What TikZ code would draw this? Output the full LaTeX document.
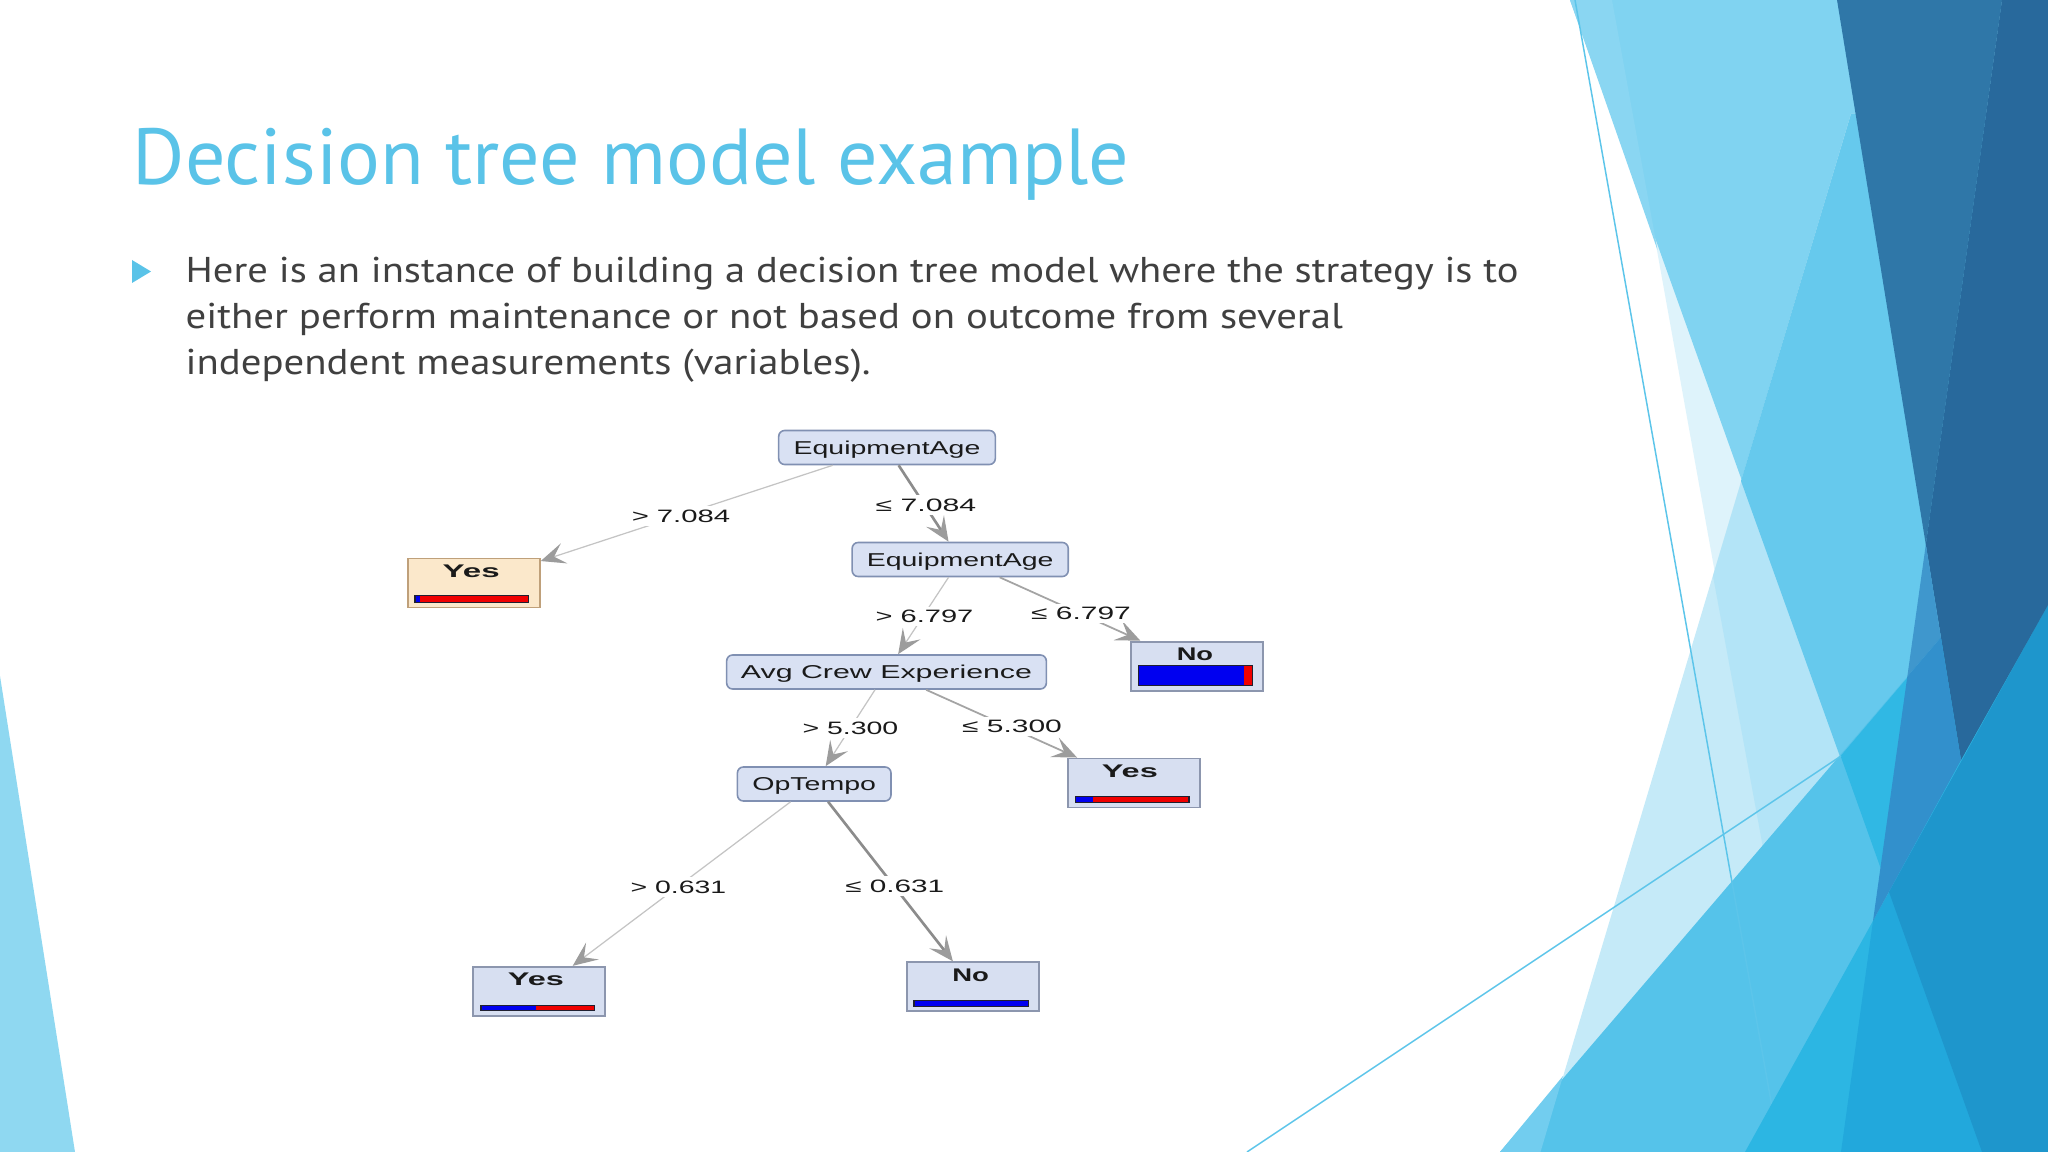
\documentclass[tikz,border=0pt]{standalone}
\usepackage{fontspec}
\usepackage{graphicx}
\usetikzlibrary{arrows.meta,calc}
\setmainfont{PT Sans}
\newfontfamily\treefont{Liberation Sans}
\newcommand\fitw[2]{\resizebox{#1}{\height}{#2}}
\definecolor{titleblue}{HTML}{5AC3E8}
\definecolor{bodygray}{HTML}{404040}
\definecolor{nodefill}{HTML}{D9E1F3}
\definecolor{nodeborder}{HTML}{8090B2}
\definecolor{leaffill}{HTML}{D7DFF1}
\definecolor{leafborder}{HTML}{8C96AE}
\definecolor{tanfill}{HTML}{FBE8CB}
\definecolor{tanborder}{HTML}{BFA07A}
\definecolor{treetext}{HTML}{1A1A1A}
\definecolor{barblue}{HTML}{0000F0}
\definecolor{barred}{HTML}{F00000}
\definecolor{barline}{HTML}{202030}
\definecolor{cSliver}{HTML}{8FD8F1}
\definecolor{cG}{HTML}{DEF3FB}
\definecolor{cA}{HTML}{80D3F1}
\definecolor{cAtop}{HTML}{8AD6F2}
\definecolor{cE}{HTML}{C5EAF8}
\definecolor{cEG}{HTML}{B3E4F7}
\definecolor{cAE}{HTML}{66C9ED}
\definecolor{cEight}{HTML}{55C3EA}
\definecolor{cEightB}{HTML}{72CDEF}
\definecolor{cEightA}{HTML}{30B8E4}
\definecolor{cSeven}{HTML}{2CB6E3}
\definecolor{cSevenD}{HTML}{22A8DC}
\definecolor{cSevenA}{HTML}{1E96CC}
\definecolor{cDark}{HTML}{2F77A8}
\definecolor{cDarkest}{HTML}{28699C}
\definecolor{cWedgeA}{HTML}{3F97CD}
\definecolor{cWedgeB}{HTML}{3290CC}
\definecolor{cThin}{HTML}{5CC5EA}
\definecolor{eLight}{HTML}{C4C4C4}
\definecolor{eMid}{HTML}{A4A4A4}
\definecolor{eDark}{HTML}{8C8C8C}
\definecolor{tipgray}{HTML}{9C9C9C}
\tikzset{
  inode/.style={draw=nodeborder, fill=nodefill, rounded corners=0.06cm, line width=0.45pt,
    inner sep=0pt, minimum height=0.34cm, text height=0.133cm, text depth=0cm,
    font=\treefont\fontsize{5.29pt}{6pt}\selectfont, text=treetext},
  leafbox/.style={draw=leafborder, fill=leaffill, line width=0.55pt, inner sep=0pt,
    minimum width=1.32cm, minimum height=0.49cm},
  tanbox/.style={leafbox, draw=tanborder, fill=tanfill},
  ltext/.style={anchor=base, inner sep=0pt, font=\treefont\bfseries\fontsize{5.2pt}{6pt}\selectfont, text=treetext},
  elabel/.style={fill=white, inner sep=0.035cm, text height=0.12cm, text depth=0cm,
    font=\treefont\fontsize{5.1pt}{6pt}\selectfont, text=treetext},
  tip/.style={-{Stealth[length=7pt,width=6pt,inset=3pt,color=tipgray]}},
  elight/.style={tip, draw=eLight, line width=0.35pt},
  emid/.style={tip, draw=eMid, line width=0.5pt},
  edark/.style={tip, draw=eDark, line width=0.75pt},
  thinline/.style={draw=cThin, line width=0.42pt},
  slidetext/.style={anchor=base west, inner sep=0pt}
}
\begin{document}
\begin{tikzpicture}[x=0.01cm,y=-0.01cm]
\useasboundingbox (0,0) rectangle (2048,1152);
\fill[white] (0,0) rectangle (2048,1152);
% left sliver
\fill[cSliver] (0,676) -- (75,1152) -- (0,1152) -- cycle;
% right decoration
\fill[cG] (1612,0) -- (2048,0) -- (2048,1152) -- (1819,1152) -- cycle;
\fill[cA] (1570,0) -- (2048,0) -- (2048,1152) -- (1982,1152) -- cycle;
\fill[cAtop] (1570,0) -- (1612,0) -- (1657.5,250) -- cycle;
\fill[cE] (1851,114) -- (1540.5,1152) -- (2048,1152) -- (2048,114) -- cycle;
\fill[cEG] (1851,114) -- (1713,576) -- (1819,1152) -- (2048,1152) -- (2048,114) -- cycle;
\fill[cAE] (1851,114) -- (1741,481) -- (1982,1152) -- (2048,1152) -- (2048,114) -- cycle;
\fill[cEight] (1500,1152) -- (2048,512.5) -- (2048,1152) -- cycle;
\fill[cEightB] (1563,1076) -- (1500,1152) -- (1540.5,1152) -- cycle;
\fill[cEightA] (1840.6,756) -- (2048,512.5) -- (2048,1152) -- (1982,1152) -- cycle;
\draw[thinline] (1575,0) -- (1780,1152);
\draw[thinline] (1247,1152) -- (1841,756);
\fill[cSeven] (1745,1152) -- (2048,605) -- (2048,1152) -- cycle;
\fill[cSevenD] (1873,921) -- (1841,1152) -- (2048,1152) -- (2048,605) -- cycle;
\fill[cSevenA] (1889,892) -- (1982,1152) -- (2048,1152) -- (2048,605) -- cycle;
\fill[cDark] (1837,0) -- (2002,0) -- (1925.8,544.6) -- cycle;
\fill[cDarkest] (2002,0) -- (2048,0) -- (2048,605) -- (1961,760) -- (1925.8,544.6) -- cycle;
\fill[cWedgeA] (1925.8,544.6) -- (1940.9,637.4) -- (1907.3,676.6) -- cycle;
\fill[cWedgeB] (1940.9,637.4) -- (1961,760) -- (1873,920.8) -- (1907.3,676.6) -- cycle;

% title and text
\node[slidetext, text=titleblue, font=\fontsize{22.6pt}{27pt}\selectfont] (title) at (132,185)
  {\fitw{9.96cm}{Decision tree model example}};
\fill[titleblue] (132,260) -- (151,271.5) -- (132,283) -- cycle;
\node[slidetext, text=bodygray, font=\fontsize{10.2pt}{12pt}\selectfont] (line1) at (185,283)
  {\fitw{13.32cm}{Here is an instance of building a decision tree model where the strategy is to}};
\node[slidetext, text=bodygray, font=\fontsize{10.2pt}{12pt}\selectfont] (line2) at (185,329)
  {\fitw{11.565cm}{either perform maintenance or not based on outcome from several}};
\node[slidetext, text=bodygray, font=\fontsize{10.2pt}{12pt}\selectfont] (line3) at (185,375)
  {\fitw{6.846cm}{independent measurements (variables).}};

% tree nodes
\node[inode, minimum width=2.165cm] (root) at (887,447.5) {\fitw{1.866cm}{EquipmentAge}};
\node[inode, minimum width=2.16cm] (ea2) at (960.2,559.5) {\fitw{1.866cm}{EquipmentAge}};
\node[inode, minimum width=3.195cm] (avg) at (886.5,672) {\fitw{2.91cm}{Avg Crew Experience}};
\node[inode, minimum width=1.535cm] (opt) at (814.2,784) {\fitw{1.236cm}{OpTempo}};
\node[tanbox] (yes1) at (473.7,583) {};
\node[leafbox] (noR) at (1196.9,666.2) {};
\node[leafbox] (yesM) at (1133.8,783) {};
\node[leafbox] (yesB) at (538.9,991.3) {};
\node[leafbox, minimum height=0.484cm] (noB) at (972.6,986.5) {};

\node[ltext] (yes1t) at ($(yes1.north)+(-2.5,20)$) {\fitw{0.57cm}{Yes}};
\node[ltext] (noRt) at ($(noR.north)+(-2,20)$) {\fitw{0.363cm}{No}};
\node[ltext] (yesMt) at ($(yesM.north)+(-4,20)$) {\fitw{0.56cm}{Yes}};
\node[ltext] (yesBt) at ($(yesB.north)+(-3,20)$) {\fitw{0.56cm}{Yes}};
\node[ltext] (noBt) at ($(noB.north)+(-2,20)$) {\fitw{0.366cm}{No}};

% bars
\fill[barred] (414.8,595.3) rectangle (528.7,602.7);
\fill[barblue] (414.8,595.3) rectangle (420,602.7);
\draw[barline, line width=0.4pt] (414.8,595.3) rectangle (528.7,602.7);
\fill[barblue] (1138.2,665.7) rectangle (1243.8,685.7);
\fill[barred] (1243.8,665.7) rectangle (1252.2,685.7);
\draw[barline, line width=0.4pt] (1138.2,665.7) rectangle (1252.2,685.7);
\fill[barred] (1075.4,796.7) rectangle (1189.1,802.7);
\fill[barblue] (1075.4,796.7) rectangle (1093,802.7);
\draw[barline, line width=0.4pt] (1075.4,796.7) rectangle (1189.1,802.7);
\fill[barred] (480.8,1005.3) rectangle (594.5,1010.7);
\fill[barblue] (480.8,1005.3) rectangle (536,1010.7);
\draw[barline, line width=0.4pt] (480.8,1005.3) rectangle (594.5,1010.7);
\fill[barblue] (913.9,1000.3) rectangle (1028.4,1006.7);
\draw[barline, line width=0.4pt] (913.9,1000.3) rectangle (1028.4,1006.7);

% edges
\draw[elight] (root) -- (yes1);
\draw[edark] (root) -- (ea2);
\draw[elight] (ea2) -- (avg);
\draw[emid] (ea2) -- (noR);
\draw[elight] (avg) -- (opt);
\draw[emid] (avg) -- (yesM);
\draw[elight] (opt) -- (yesB);
\draw[edark] (opt) -- (noB);

% edge labels
\node[elabel] (lab1) at (681,516) {\fitw{0.984cm}{> 7.084}};
\node[elabel] (lab2) at (926,505) {\fitw{1.005cm}{≤ 7.084}};
\node[elabel] (lab3) at (924.5,616.5) {\fitw{0.976cm}{> 6.797}};
\node[elabel] (lab4) at (1081,613.5) {\fitw{0.995cm}{≤ 6.797}};
\node[elabel] (lab5) at (850.4,728) {\fitw{0.956cm}{> 5.300}};
\node[elabel] (lab6) at (1012,726.7) {\fitw{0.997cm}{≤ 5.300}};
\node[elabel] (lab7) at (678.5,887) {\fitw{0.955cm}{> 0.631}};
\node[elabel] (lab8) at (894.8,886) {\fitw{0.989cm}{≤ 0.631}};
\end{tikzpicture}
\end{document}
